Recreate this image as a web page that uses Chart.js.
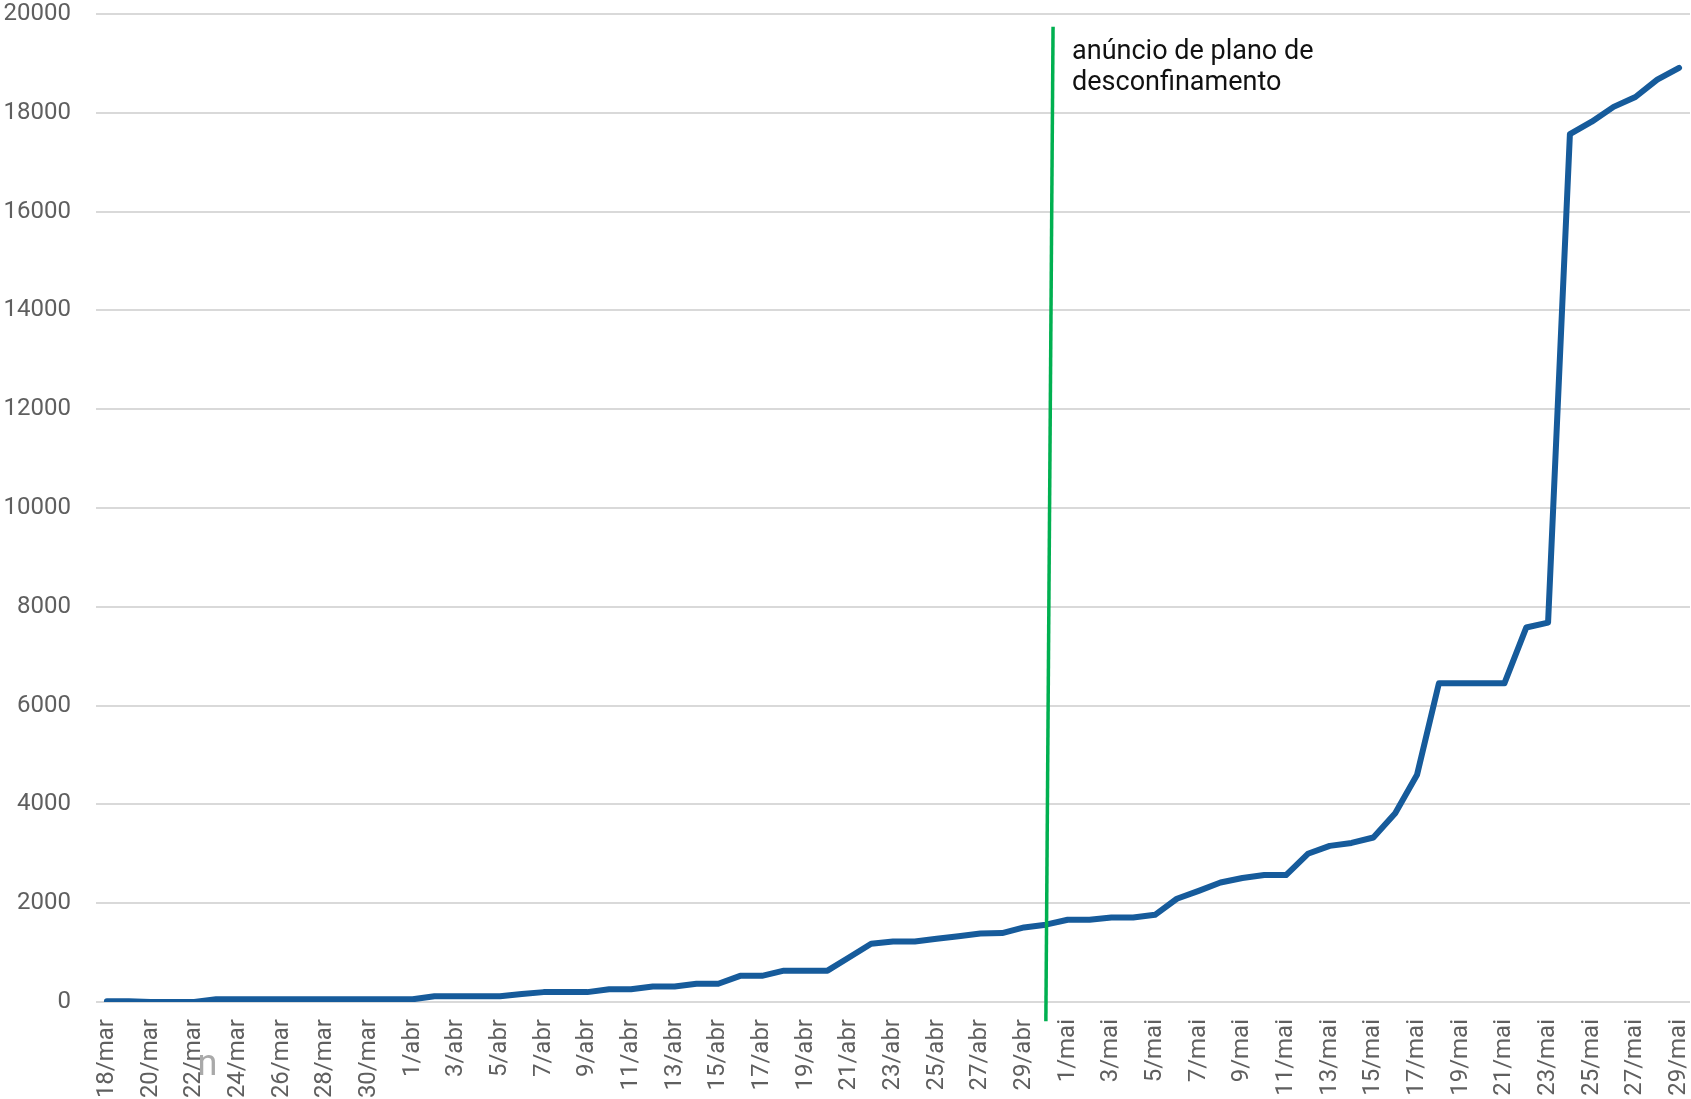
<!DOCTYPE html>
<html>
<head>
<meta charset="utf-8">
<script src="https://cdn.jsdelivr.net/npm/chart.js@4/dist/chart.umd.min.js"></script>
<style>
  html, body { margin: 0; padding: 0; background: #ffffff; overflow: hidden; }
  #wrap { width: 1691px; height: 1099px; }
</style>
</head>
<body>
<div id="wrap"><canvas id="c" width="1691" height="1099"></canvas></div>
<script>
// ---- DATA ----
const dates = [
  '18/mar','19/mar','20/mar','21/mar','22/mar','23/mar','24/mar','25/mar','26/mar','27/mar',
  '28/mar','29/mar','30/mar','31/mar','1/abr','2/abr','3/abr','4/abr','5/abr','6/abr',
  '7/abr','8/abr','9/abr','10/abr','11/abr','12/abr','13/abr','14/abr','15/abr','16/abr',
  '17/abr','18/abr','19/abr','20/abr','21/abr','22/abr','23/abr','24/abr','25/abr','26/abr',
  '27/abr','28/abr','29/abr','30/abr','1/mai','2/mai','3/mai','4/mai','5/mai','6/mai',
  '7/mai','8/mai','9/mai','10/mai','11/mai','12/mai','13/mai','14/mai','15/mai','16/mai',
  '17/mai','18/mai','19/mai','20/mai','21/mai','22/mai','23/mai','24/mai','25/mai','26/mai',
  '27/mai','28/mai','29/mai'
];
const values = [
  15, 15, 0, 0, 0, 55, 55, 55, 55, 55,
  55, 55, 55, 55, 55, 115, 115, 115, 115, 160,
  200, 200, 200, 260, 260, 315, 315, 370, 370, 530,
  530, 635, 635, 635, 905, 1180, 1225, 1225, 1280, 1330,
  1385, 1395, 1510, 1565, 1665, 1665, 1712, 1712, 1765, 2090,
  2250, 2420, 2510, 2570, 2570, 3000, 3160, 3220, 3330, 3820,
  4600, 6450, 6450, 6450, 6450, 7580, 7680, 17570, 17820, 18120,
  18320, 18670, 18910
];
const yTicks = [0, 2000, 4000, 6000, 8000, 10000, 12000, 14000, 16000, 18000, 20000];
// Announcement marker (hand-drawn, slightly slanted) in data units: category index / value
const markerX = [43.0, 43.33];
const markerY = [-390, 19740];
const annotationLines = ['anúncio de plano de', 'desconfinamento'];
const annotationAt = { x: 44.2, y: 19090 };
const strayText = 'n';
const strayAt = { x: 4.6 };

// ---- CHART ----
const FONT = 'Roboto, "Noto Sans", sans-serif';

const textPlugin = {
  id: 'texts',
  afterDatasetsDraw(chart) {
    const ctx = chart.ctx;
    const xs = chart.scales.xg, ys = chart.scales.y;
    ctx.save();
    ctx.fillStyle = '#111111';
    ctx.font = '27px ' + FONT;
    ctx.textAlign = 'left';
    ctx.textBaseline = 'alphabetic';
    const x0 = xs.getPixelForValue(annotationAt.x);
    const y0 = ys.getPixelForValue(annotationAt.y);
    annotationLines.forEach((t, i) => ctx.fillText(t, x0, y0 + i * 31));
    // stray grey glyph under the axis
    ctx.fillStyle = '#a9a9a9';
    ctx.font = '36px ' + FONT;
    ctx.textAlign = 'center';
    ctx.fillText(strayText, xs.getPixelForValue(strayAt.x), chart.chartArea.bottom + 73);
    ctx.restore();
  }
};

new Chart(document.getElementById('c'), {
  type: 'line',
  data: {
    labels: dates,
    datasets: [
      {
        data: markerX.map((x, i) => ({ x: x, y: markerY[i] })),
        xAxisID: 'xg',
        borderColor: '#00b050',
        borderWidth: 3.5,
        pointRadius: 0,
        tension: 0,
        clip: false,
        order: 0
      },
      {
        data: values,
        xAxisID: 'x',
        borderColor: '#165b9b',
        borderWidth: 6,
        pointRadius: 0,
        tension: 0,
        borderCapStyle: 'round',
        borderJoinStyle: 'round',
        order: 1
      }
    ]
  },
  options: {
    responsive: false,
    animation: false,
    devicePixelRatio: 1,
    layout: { padding: { left: 0, right: 1, top: 0, bottom: 0 } },
    plugins: { legend: { display: false }, title: { display: false }, tooltip: { enabled: false } },
    scales: {
      x: {
        type: 'category',
        offset: true,
        grid: { display: false, drawTicks: false },
        border: { display: false },
        ticks: {
          autoSkip: false,
          maxRotation: 90,
          minRotation: 90,
          padding: 17,
          color: '#5f5f5f',
          font: { family: FONT, size: 24 },
          callback: function (v, i) { return i % 2 === 0 ? dates[i] : ''; }
        },
        afterFit: (s) => { s.height = 97; s.paddingLeft = 0; s.paddingRight = 0; }
      },
      xg: {
        type: 'linear',
        display: false,
        min: -0.5,
        max: dates.length - 0.5
      },
      y: {
        min: yTicks[0],
        max: yTicks[yTicks.length - 1],
        afterBuildTicks: (s) => { s.ticks = yTicks.map(v => ({ value: v })); },
        grid: { color: '#d9d9d9', lineWidth: 2, drawTicks: false },
        border: { display: false },
        ticks: {
          padding: 25,
          color: '#5f5f5f',
          font: { family: FONT, size: 24 },
          callback: (v) => String(v)
        },
        afterFit: (s) => { s.width = 96; s.paddingTop = 14; s.paddingBottom = 0; }
      }
    }
  },
  plugins: [textPlugin]
});
</script>
</body>
</html>
